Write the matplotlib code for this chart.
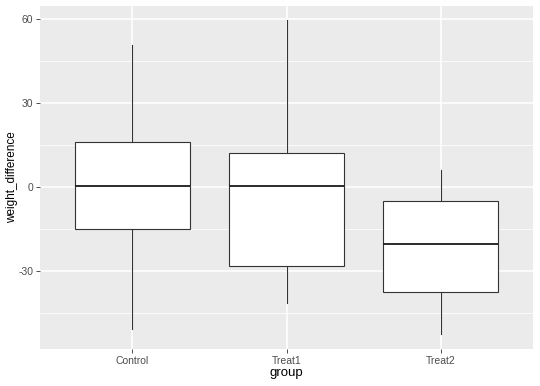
import matplotlib
matplotlib.use("Agg")
import matplotlib.pyplot as plt

groups = ["Control", "Treat1", "Treat2"]
whisker_low = [-50.7, -41.4, -52.5]
q1 = [-15.0, -28.2, -37.5]
median = [0.3, 0.3, -20.4]
q3 = [16.0, 12.1, -5.0]
whisker_high = [50.7, 59.6, 6.0]

plt.rcParams['font.family'] = ['Liberation Sans', 'DejaVu Sans']
plt.rcParams['axes.unicode_minus'] = False

fig = plt.figure(figsize=(5.4, 3.86), dpi=100)
ax = fig.add_axes([40/540, 37/386, 493/540, 343/386])
ax.set_facecolor('#EBEBEB')

stats = []
for i, g in enumerate(groups):
    stats.append(dict(label=g, whislo=whisker_low[i], q1=q1[i], med=median[i],
                      q3=q3[i], whishi=whisker_high[i], fliers=[]))

pos = list(range(1, len(groups) + 1))
ax.bxp(stats, positions=pos, widths=0.75, patch_artist=True, showcaps=False,
       boxprops=dict(facecolor='white', edgecolor='#333333', linewidth=0.8),
       whiskerprops=dict(color='#333333', linewidth=0.8),
       medianprops=dict(color='#1a1a1a', linewidth=1.3), zorder=3)

ax.set_xlim(0.4, 3.6)
ax.set_ylim(-58.0, 64.7)
ax.set_yticks([-30, 0, 30, 60])
ax.set_yticks([-45, -15, 15, 45], minor=True)
ax.set_xticks(pos)
ax.set_xticklabels(groups)

ax.grid(which='major', color='white', linewidth=1.1, zorder=0)
ax.grid(which='minor', axis='y', color='white', linewidth=0.55, zorder=0)
ax.set_axisbelow(True)
for s in ax.spines.values():
    s.set_visible(False)

ax.tick_params(which='major', length=2.75, width=0.6, color='#333333',
               labelcolor='#4D4D4D', labelsize=7.5, pad=2)
ax.tick_params(which='minor', length=0)

ax.set_xlabel('group', fontsize=9.5, labelpad=1)
ax.set_ylabel('weight_difference', fontsize=8.5)
ax.yaxis.set_label_coords(-0.045, 0.5)

fig.savefig('out.png', dpi=100)
